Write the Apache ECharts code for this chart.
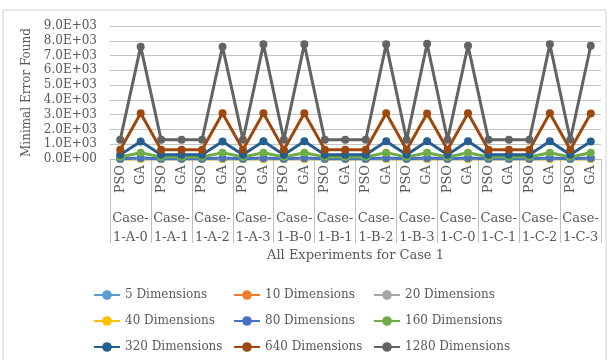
<!DOCTYPE html>
<html>
<head>
<meta charset="utf-8">
<script src="https://cdn.jsdelivr.net/npm/echarts@6/dist/echarts.min.js"></script>
<style>
  html, body { margin: 0; padding: 0; background: #fff; }
  #chart { width: 611px; height: 360px; }
</style>
</head>
<body>
<div id="chart"></div>
<script>
// experiments, PSO/GA pairs per case
const cases = ['1-A-0', '1-A-1', '1-A-2', '1-A-3', '1-B-0', '1-B-1', '1-B-2', '1-B-3', '1-C-0', '1-C-1', '1-C-2', '1-C-3'];
const methods = ['PSO', 'GA'];

// minimal error found, 24 values each (PSO, GA for every case)
const d5 = [3, 6, 3, 3, 3, 6, 3, 6, 3, 6, 3, 3, 3, 6, 3, 6, 3, 6, 3, 3, 3, 6, 3, 6];
const d10 = [12, 20, 12, 12, 12, 20, 12, 20, 12, 20, 12, 12, 12, 20, 12, 20, 12, 20, 12, 12, 12, 20, 12, 20];
const d20 = [25, 40, 25, 25, 25, 40, 25, 40, 25, 40, 25, 25, 25, 40, 25, 40, 25, 40, 25, 25, 25, 40, 25, 40];
const d40 = [2, 4, 2, 2, 2, 4, 2, 4, 2, 4, 2, 2, 2, 4, 2, 4, 2, 4, 2, 2, 2, 4, 2, 4];
const d80 = [25, 70, 25, 25, 25, 70, 25, 70, 25, 70, 25, 25, 25, 70, 25, 70, 25, 70, 25, 25, 25, 70, 25, 70];
const d160 = [140, 420, 140, 140, 140, 430, 140, 420, 140, 420, 140, 140, 140, 430, 140, 420, 140, 420, 140, 140, 140, 420, 140, 420];
const d320 = [280, 1180, 280, 280, 280, 1180, 280, 1200, 280, 1200, 280, 280, 280, 1200, 280, 1200, 280, 1200, 280, 280, 280, 1200, 280, 1190];
const d640 = [620, 3100, 620, 620, 620, 3100, 620, 3100, 620, 3100, 620, 620, 620, 3100, 620, 3080, 620, 3100, 620, 620, 620, 3100, 620, 3080];
const d1280 = [1300, 7600, 1300, 1300, 1300, 7600, 1300, 7760, 1300, 7760, 1300, 1300, 1300, 7760, 1300, 7800, 1300, 7670, 1300, 1300, 1300, 7760, 1300, 7660];

const yTicks = [0, 1000, 2000, 3000, 4000, 5000, 6000, 7000, 8000, 9000];

const seriesDefs = [
  ['5 Dimensions', d5, '#5B9BD5'],
  ['10 Dimensions', d10, '#ED7D31'],
  ['20 Dimensions', d20, '#A5A5A5'],
  ['40 Dimensions', d40, '#FFC000'],
  ['80 Dimensions', d80, '#4472C4'],
  ['160 Dimensions', d160, '#70AD47'],
  ['320 Dimensions', d320, '#255E91'],
  ['640 Dimensions', d640, '#9E480E'],
  ['1280 Dimensions', d1280, '#636363']
];

const FONT = 'DejaVu Serif';
const TXT = '#595959';

function sci(v) {
  if (v === 0) return '0.0E+00';
  const e = Math.floor(Math.log10(v));
  const m = v / Math.pow(10, e);
  return m.toFixed(1) + 'E+' + String(e).padStart(2, '0');
}

const expLabels = [];
cases.forEach(c => methods.forEach(m => expLabels.push(m)));

function legendCol(left, names) {
  return {
    orient: 'vertical',
    left: left,
    top: 284,
    itemWidth: 26,
    itemHeight: 12,
    itemGap: 14,
    data: names,
    textStyle: { fontFamily: FONT, fontSize: 12, color: TXT }
  };
}

const chart = echarts.init(document.getElementById('chart'));
chart.setOption({
  animation: false,
  textStyle: { fontFamily: FONT },
  graphic: [{
    type: 'rect',
    shape: { x: 3, y: 10, width: 603, height: 360 },
    style: { fill: 'none', stroke: '#D0D0D0', lineWidth: 1 },
    silent: true
  }],
  grid: { left: 110, right: 10, top: 26, bottom: 201 },
  legend: [
    legendCol(88, ['5 Dimensions', '40 Dimensions', '320 Dimensions']),
    legendCol(228, ['10 Dimensions', '80 Dimensions', '640 Dimensions']),
    legendCol(368, ['20 Dimensions', '160 Dimensions', '1280 Dimensions'])
  ],
  xAxis: [{
    type: 'category',
    data: expLabels,
    position: 'bottom',
    boundaryGap: true,
    axisLine: { lineStyle: { color: '#BFBFBF' } },
    axisTick: { show: false },
    axisLabel: { interval: 0, rotate: 90, margin: 6, fontFamily: FONT, fontSize: 13, color: TXT },
    name: 'All Experiments for Case 1',
    nameLocation: 'middle',
    nameGap: 90,
    nameTextStyle: { fontFamily: FONT, fontSize: 13, color: TXT }
  }, {
    type: 'category',
    data: cases.map(c => 'Case-\n' + c),
    position: 'bottom',
    boundaryGap: true,
    axisLine: { show: false },
    axisTick: { show: true, interval: 0, length: 84, lineStyle: { color: '#BFBFBF' } },
    axisLabel: { interval: 0, margin: 50, lineHeight: 19, fontFamily: FONT, fontSize: 13, color: TXT },
    splitLine: { show: false }
  }],
  yAxis: {
    type: 'value',
    min: 0,
    max: yTicks[yTicks.length - 1],
    interval: 1000,
    name: 'Minimal Error Found',
    nameLocation: 'middle',
    nameGap: 70,
    nameTextStyle: { fontFamily: FONT, fontSize: 12, color: TXT },
    axisLine: { show: false },
    axisTick: { show: false },
    axisLabel: { margin: 13, fontFamily: FONT, fontSize: 12, color: TXT, formatter: sci },
    splitLine: { lineStyle: { color: '#C4C4C4', width: 1 } }
  },
  series: seriesDefs.map(([name, data, color]) => ({
    name: name,
    type: 'line',
    xAxisIndex: 0,
    data: data,
    symbol: 'circle',
    symbolSize: 8,
    color: color,
    lineStyle: { width: 3, color: color },
    itemStyle: { color: color }
  }))
});
</script>
</body>
</html>
